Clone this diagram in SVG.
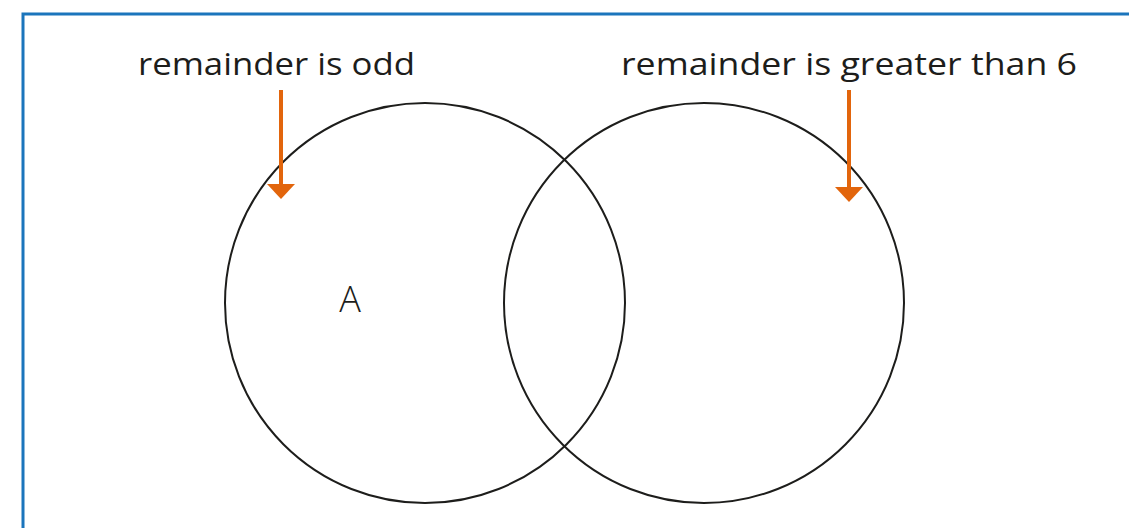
<svg xmlns="http://www.w3.org/2000/svg" width="1129" height="528" viewBox="0 0 1129 528">
<style>
.frame{fill:none;stroke:#1b75bc;stroke-width:3}
.set{fill:none;stroke:#1d1d1b;stroke-width:2}
.lbl{font-family:"Open Sans","DejaVu Sans",sans-serif;font-size:31px;fill:#1d1d1b}
.arrow{stroke:#e2650c;stroke-width:4;fill:none}
.head{fill:#e2650c}
</style>
<rect class="frame" x="23" y="14" width="1120" height="530"/>
<g id="setOdd">
<circle class="set" cx="425" cy="303" r="200"/>
<text class="lbl" x="138" y="75" textLength="277" lengthAdjust="spacingAndGlyphs">remainder is odd</text>
</g>
<g id="setGreater">
<circle class="set" cx="704" cy="303" r="200"/>
<text class="lbl" x="621" y="75" textLength="456" lengthAdjust="spacingAndGlyphs">remainder is greater than 6</text>
</g>
<g id="regionA">
<text class="lbl" x="350" y="312" text-anchor="middle" style="font-size:36px;font-weight:300">A</text>
</g>
<g id="connectors">
<line class="arrow" x1="281" y1="90" x2="281" y2="186"/>
<polygon class="head" points="267,184 295,184 281,199"/>
<line class="arrow" x1="849" y1="90" x2="849" y2="188"/>
<polygon class="head" points="835,187 863,187 849,202"/>
</g>
</svg>
